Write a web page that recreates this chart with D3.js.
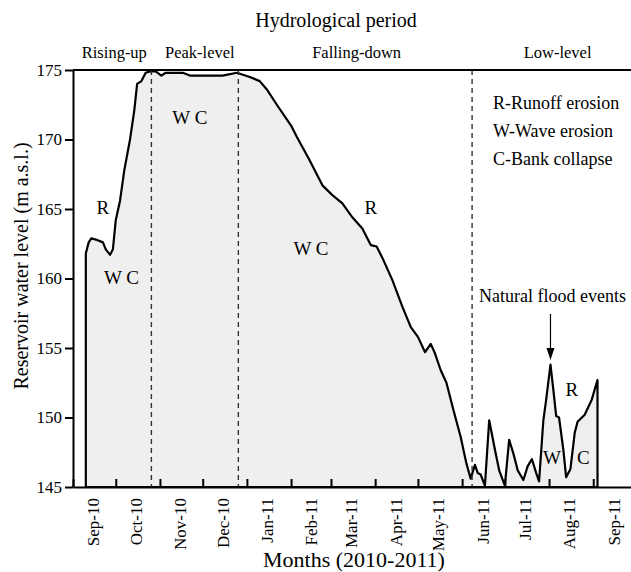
<!DOCTYPE html>
<html lang="en">
<head>
<meta charset="UTF-8">
<title>Reservoir water level</title>
<style>
    html, body { margin: 0; padding: 0; background: #fff; }
    svg { display: block; font-family: "Liberation Serif", "Times New Roman", serif; }
    .axis path, .axis line { stroke: #000; stroke-width: 2; }
    .axis text { fill: #000; font-family: "Liberation Serif", "Times New Roman", serif; }
</style>
</head>
<body>
<div id="chart"></div>
<script src="https://d3js.org/d3.v7.min.js"></script>
<script>
// water level record
const dates = [
    "2010-09-10","2010-09-12","2010-09-14","2010-09-17","2010-09-22","2010-09-24","2010-09-27","2010-09-29",
    "2010-10-01","2010-10-04","2010-10-07","2010-10-11","2010-10-14","2010-10-16","2010-10-19","2010-10-22",
    "2010-10-25","2010-10-29","2010-11-02","2010-11-05","2010-11-17","2010-11-22","2010-12-06","2010-12-15",
    "2010-12-25","2011-01-03","2011-01-10","2011-01-15","2011-01-22","2011-02-01","2011-02-05","2011-02-14",
    "2011-02-23","2011-03-02","2011-03-09","2011-03-16","2011-03-23","2011-03-29","2011-04-02","2011-04-06",
    "2011-04-13","2011-04-20","2011-04-26","2011-05-01","2011-05-06","2011-05-10","2011-05-13","2011-05-17",
    "2011-05-21","2011-05-26","2011-05-31","2011-06-04","2011-06-07","2011-06-10","2011-06-12","2011-06-14",
    "2011-06-17","2011-06-20","2011-06-24","2011-06-27","2011-07-01","2011-07-04","2011-07-07","2011-07-10",
    "2011-07-14","2011-07-17","2011-07-20","2011-07-23","2011-07-25","2011-07-28","2011-07-30","2011-08-02",
    "2011-08-04","2011-08-06","2011-08-08","2011-08-11","2011-08-13","2011-08-16","2011-08-19","2011-08-21",
    "2011-08-26","2011-08-31","2011-09-04"
];
const levels = [
    161.8,162.6,162.9,162.8,162.6,162.1,161.7,162.1,
    164.2,165.6,167.8,170.0,172.1,174.0,174.2,174.8,
    174.9,174.9,174.6,174.8,174.8,174.6,174.6,174.6,
    174.8,174.5,174.2,173.6,172.5,171.0,170.2,168.5,
    166.7,166.0,165.4,164.4,163.6,162.4,162.3,161.5,
    159.9,158.0,156.5,155.8,154.7,155.3,154.6,153.4,
    152.5,150.5,148.6,146.7,145.6,146.6,146.0,145.9,
    145.1,149.8,147.7,146.2,145.1,148.4,147.4,146.2,
    145.5,146.5,147.0,146.0,145.4,149.8,151.3,153.8,
    152.0,150.1,150.0,147.7,145.7,146.3,148.9,149.7,
    150.2,151.3,152.7
];

const monthStarts = ["2010-09-01","2010-10-01","2010-11-01","2010-12-01","2011-01-01","2011-02-01","2011-03-01",
    "2011-04-01","2011-05-01","2011-06-01","2011-07-01","2011-08-01","2011-09-01"];
const monthLabels = ["Sep-10","Oct-10","Nov-10","Dec-10","Jan-11","Feb-11","Mar-11",
    "Apr-11","May-11","Jun-11","Jul-11","Aug-11","Sep-11"];
const levelTicks = [145, 150, 155, 160, 165, 170, 175];

const periodNames = ["Rising-up", "Peak-level", "Falling-down", "Low-level"];
const periodBreaks = ["2010-09-01", "2010-10-26", "2010-12-26", "2011-06-08", "2011-09-30"];
// where each period name sits (dates inside the period)
const periodLabelDates = ["2010-09-30", "2010-11-29", "2011-03-19", "2011-08-07"];

const markTexts = ["R", "W C", "W C", "W C", "R", "R", "W", "C"];
const markDates = ["2010-09-22","2010-11-22","2010-10-05","2011-02-15","2011-03-29","2011-08-17","2011-08-03","2011-08-25"];
const markLevels = [165.1, 171.6, 160.1, 162.2, 165.1, 152.0, 147.1, 147.1];

const legendLines = ["R-Runoff erosion", "W-Wave erosion", "C-Bank collapse"];
const floodDate = "2011-08-02";

const W = 631, H = 572;
const parse = d3.timeParse("%Y-%m-%d");
const data = dates.map((d, i) => ({ date: parse(d), level: levels[i] }));

const svg = d3.select("#chart").append("svg")
    .attr("width", W)
    .attr("height", H);

const x = d3.scaleTime()
    .domain([parse("2010-09-01"), parse("2011-10-01")])
    .range([73, 636]);
const y = d3.scaleLinear()
    .domain([145, 175])
    .range([487, 70]);

// shaded area under the curve, outline closes down to the axis
const area = d3.area()
    .x(d => x(d.date))
    .y0(y(145))
    .y1(d => y(d.level));

svg.append("path")
    .datum(data)
    .attr("d", area)
    .attr("fill", "#efefef")
    .attr("stroke", "#000")
    .attr("stroke-width", 2.2)
    .attr("stroke-linejoin", "round");

// period separators
svg.selectAll("line.period")
    .data(periodBreaks.slice(1, 4))
    .enter()
    .append("line")
    .attr("class", "period")
    .attr("x1", d => x(parse(d)))
    .attr("x2", d => x(parse(d)))
    .attr("y1", y(175))
    .attr("y2", y(145))
    .attr("stroke", "#333")
    .attr("stroke-width", 1.4)
    .attr("stroke-dasharray", "5,4");

// top frame line
svg.append("line")
    .attr("x1", x.range()[0])
    .attr("x2", x.range()[1])
    .attr("y1", y(175))
    .attr("y2", y(175))
    .attr("stroke", "#000")
    .attr("stroke-width", 2);

// y axis
svg.append("g")
    .attr("class", "axis")
    .attr("transform", `translate(${x.range()[0]},0)`)
    .call(d3.axisLeft(y).tickValues(levelTicks).tickSize(8).tickSizeOuter(0).tickPadding(3))
    .selectAll("text")
    .attr("font-size", 17);

// x axis: month ticks pointing in
svg.append("g")
    .attr("class", "axis")
    .attr("transform", `translate(0,${y(145)})`)
    .call(d3.axisBottom(x).tickValues(monthStarts.map(parse)).tickSize(-8).tickSizeOuter(0).tickFormat(""));

// month labels centred in each month
const midMonths = monthStarts.map(d => d3.timeDay.offset(parse(d), 14));
svg.append("g")
    .attr("class", "axis")
    .attr("transform", `translate(0,${y(145)})`)
    .call(d3.axisBottom(x).tickValues(midMonths).tickSize(0).tickFormat((d, i) => monthLabels[i]))
    .call(g => g.select(".domain").remove())
    .selectAll("text")
    .attr("font-size", 17)
    .attr("text-anchor", "end")
    .attr("transform", "rotate(-90)")
    .attr("x", -11)
    .attr("y", 0)
    .attr("dy", "0.35em");

// axis titles
svg.append("text")
    .attr("transform", `translate(28,266) rotate(-90)`)
    .attr("text-anchor", "middle")
    .attr("font-size", 20)
    .text("Reservoir water level (m a.s.l.)");

svg.append("text")
    .attr("x", 354)
    .attr("y", 567)
    .attr("text-anchor", "middle")
    .attr("font-size", 22)
    .text("Months (2010-2011)");

svg.append("text")
    .attr("x", 336)
    .attr("y", 27)
    .attr("text-anchor", "middle")
    .attr("font-size", 20)
    .text("Hydrological period");

// period names
svg.selectAll("text.period-name")
    .data(periodNames)
    .enter()
    .append("text")
    .attr("class", "period-name")
    .attr("x", (d, i) => x(parse(periodLabelDates[i])))
    .attr("y", 58)
    .attr("text-anchor", "middle")
    .attr("font-size", 16.5)
    .text(d => d);

// erosion process marks
svg.selectAll("text.mark")
    .data(markTexts)
    .enter()
    .append("text")
    .attr("class", "mark")
    .attr("x", (d, i) => x(parse(markDates[i])))
    .attr("y", (d, i) => y(markLevels[i]))
    .attr("dy", "0.35em")
    .attr("text-anchor", "middle")
    .attr("font-size", 19)
    .text(d => d);

// legend
svg.selectAll("text.legend")
    .data(legendLines)
    .enter()
    .append("text")
    .attr("class", "legend")
    .attr("x", 493)
    .attr("y", (d, i) => 109 + i * 28)
    .attr("font-size", 18)
    .text(d => d);

// flood annotation
const fx = x(parse(floodDate));
svg.append("text")
    .attr("x", fx + 2)
    .attr("y", 302)
    .attr("text-anchor", "middle")
    .attr("font-size", 18)
    .text("Natural flood events");

svg.append("line")
    .attr("x1", fx)
    .attr("x2", fx)
    .attr("y1", 314)
    .attr("y2", 350)
    .attr("stroke", "#000")
    .attr("stroke-width", 1.2);

svg.append("path")
    .attr("d", `M${fx - 4},${348} L${fx + 4},${348} L${fx},${360} Z`)
    .attr("fill", "#000");
</script>
</body>
</html>
